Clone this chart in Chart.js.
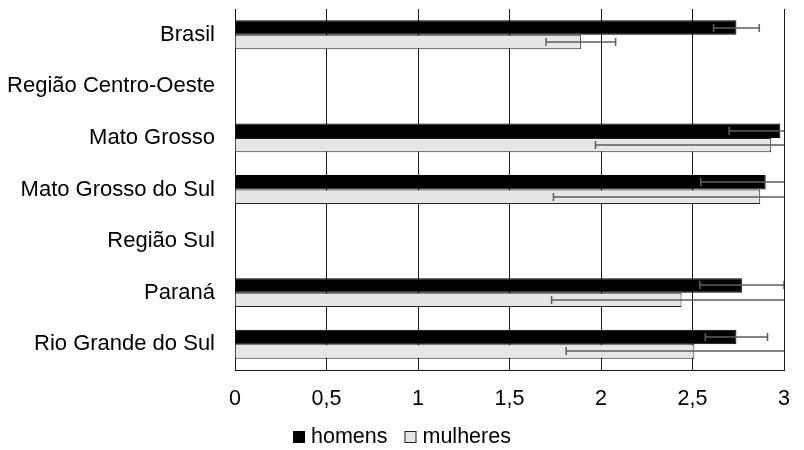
<!DOCTYPE html>
<html>
<head>
<meta charset="utf-8">
<script src="https://cdn.jsdelivr.net/npm/chart.js@4.4.1/dist/chart.umd.min.js"></script>
<style>
  html, body { margin: 0; padding: 0; background: #fff; }
  #wrap { width: 804px; height: 450px; position: relative; }
</style>
</head>
<body>
<div id="wrap"><canvas id="c"></canvas></div>
<script>
// Regions and states
const categories = [
  'Brasil',
  'Região Centro-Oeste',
  'Mato Grosso',
  'Mato Grosso do Sul',
  'Região Sul',
  'Paraná',
  'Rio Grande do Sul'
];

// Mean values per group (regions without a value are headings)
const homens   = [2.74, null, 2.98, 2.90, null, 2.77, 2.74];
const mulheres = [1.89, null, 2.93, 2.87, null, 2.44, 2.51];

// Half-width of the confidence interval for each value
const homensErro   = [0.125, null, 0.28, 0.355, null, 0.23, 0.17];
const mulheresErro = [0.19,  null, 0.96, 1.13,  null, 0.71, 0.70];

// Value axis ticks
const xTicks = [0, 0.5, 1, 1.5, 2, 2.5, 3];

const FONT = 'Liberation Sans, Arial, sans-serif';
const LABEL_SIZE = 22;
const TICK_SIZE = 21.5;

// Error whiskers on top of each bar, clipped to the plot area
const errorBars = {
  id: 'errorBars',
  afterDatasetsDraw(chart) {
    const ctx = chart.ctx;
    const xs = chart.scales.x;
    const area = chart.chartArea;
    ctx.save();
    ctx.beginPath();
    ctx.rect(area.left, area.top, area.right - area.left, area.bottom - area.top);
    ctx.clip();
    ctx.strokeStyle = '#5e5e5e';
    ctx.lineWidth = 1.5;
    chart.data.datasets.forEach((ds, di) => {
      const meta = chart.getDatasetMeta(di);
      ds.erro.forEach((e, i) => {
        const v = ds.data[i];
        if (v == null || e == null) return;
        const bar = meta.data[i];
        const y = Math.round(bar.y);
        const x0 = xs.getPixelForValue(v - e);
        const x1 = xs.getPixelForValue(v + e);
        const cap = 4;
        ctx.beginPath();
        ctx.moveTo(x0, y); ctx.lineTo(x1, y);
        ctx.moveTo(x0, y - cap); ctx.lineTo(x0, y + cap);
        ctx.moveTo(x1, y - cap); ctx.lineTo(x1, y + cap);
        ctx.stroke();
      });
    });
    ctx.restore();
  }
};

// Compact legend under the axis: small square, short gap, series name
const compactLegend = {
  id: 'compactLegend',
  afterDraw(chart) {
    const ctx = chart.ctx;
    const box = 12, gap = 6, itemGap = 17;
    const baseline = 443;
    ctx.save();
    ctx.font = TICK_SIZE + 'px ' + FONT;
    const items = chart.data.datasets.map(ds => ({
      text: ds.label,
      fill: ds.backgroundColor,
      stroke: ds.borderColor,
      w: ctx.measureText(ds.label).width
    }));
    let total = 0;
    items.forEach((it, i) => { total += box + gap + it.w + (i ? itemGap : 0); });
    let x = Math.round(chart.width / 2 - total / 2);
    items.forEach(it => {
      ctx.fillStyle = it.fill;
      ctx.fillRect(x, baseline - box, box, box);
      ctx.strokeStyle = it.stroke;
      ctx.lineWidth = 1;
      ctx.strokeRect(x + 0.5, baseline - box + 0.5, box - 1, box - 1);
      ctx.fillStyle = '#000';
      ctx.textBaseline = 'alphabetic';
      ctx.textAlign = 'left';
      ctx.fillText(it.text, x + box + gap, baseline);
      x += box + gap + it.w + itemGap;
    });
    ctx.restore();
  }
};

new Chart(document.getElementById('c'), {
  type: 'bar',
  data: {
    labels: categories,
    datasets: [
      {
        label: 'homens',
        data: homens,
        erro: homensErro,
        backgroundColor: '#000000',
        borderColor: '#000000',
        borderWidth: 1
      },
      {
        label: 'mulheres',
        data: mulheres,
        erro: mulheresErro,
        backgroundColor: '#e6e6e6',
        borderColor: '#262626',
        borderWidth: 1
      }
    ]
  },
  options: {
    indexAxis: 'y',
    responsive: true,
    maintainAspectRatio: false,
    animation: false,
    layout: { padding: { left: 8, right: 20, top: 9, bottom: 30 } },
    datasets: {
      bar: { categoryPercentage: 0.56, barPercentage: 1.0 }
    },
    scales: {
      x: {
        min: 0,
        max: 3,
        afterBuildTicks(scale) {
          scale.ticks = xTicks.map(v => ({ value: v }));
        },
        afterFit(scale) {
          scale.height = 50;
          scale.paddingLeft = 0;
          scale.paddingRight = 0;
        },
        ticks: {
          color: '#000',
          font: { family: FONT, size: TICK_SIZE },
          padding: 16,
          maxRotation: 0,
          callback: v => Number(v).toLocaleString('pt-BR')
        },
        grid: { color: '#1a1a1a', lineWidth: 1, drawTicks: false },
        border: { display: true, color: '#1a1a1a', width: 1 }
      },
      y: {
        afterFit(scale) {
          scale.width = 227;
          scale.paddingTop = 0;
          scale.paddingBottom = 0;
        },
        ticks: {
          color: '#000',
          font: { family: FONT, size: LABEL_SIZE },
          padding: 20
        },
        grid: { display: false, drawTicks: false },
        border: { display: true, color: '#1a1a1a', width: 1 }
      }
    },
    plugins: {
      legend: { display: false },
      tooltip: { enabled: false }
    }
  },
  plugins: [errorBars, compactLegend]
});
</script>
</body>
</html>
